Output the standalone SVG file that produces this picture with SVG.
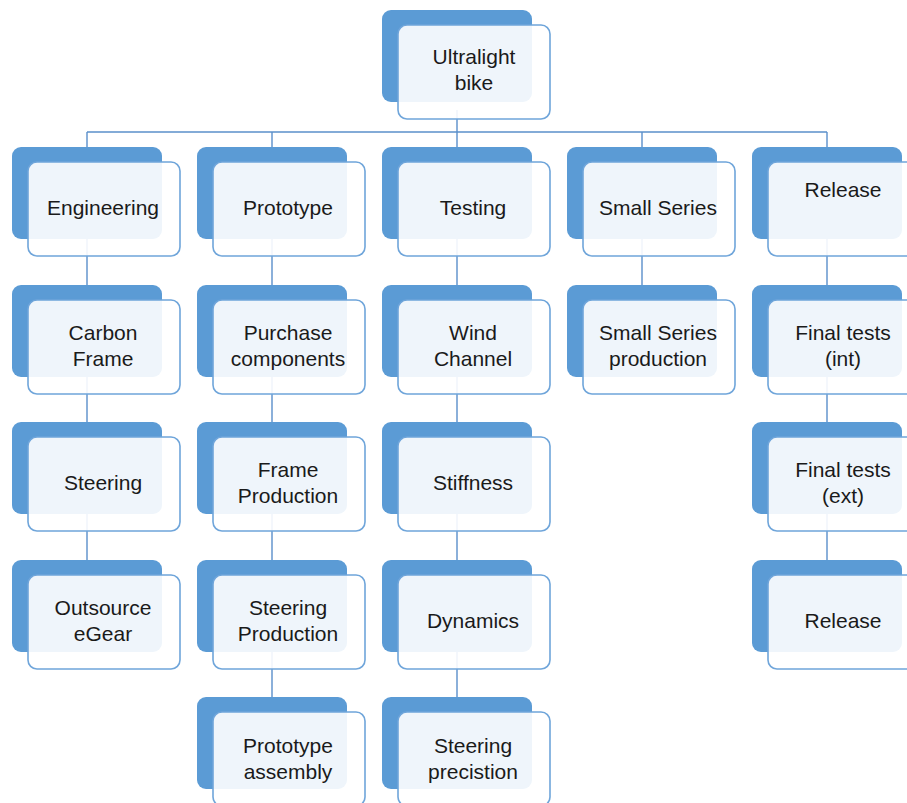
<svg xmlns="http://www.w3.org/2000/svg" width="907" height="803" viewBox="0 0 907 803">
<style>
.back{fill:#5b9bd5;}
.front{fill:#ffffff;fill-opacity:0.9;stroke:#6fa5da;stroke-width:1.6;}
.lbl{font-family:"Liberation Sans",Arial,sans-serif;font-size:21px;fill:#1a1a1a;text-anchor:middle;}
.con{stroke:#5a8fca;stroke-width:1.4;fill:none;}
</style>
<defs>
<g id="box">
<rect class="back" x="0" y="0" width="150" height="92" rx="9"/>
<rect class="front" x="16" y="15" width="152" height="94" rx="9"/>
</g>
</defs>
<g id="connectors">
<line class="con" x1="457" y1="110" x2="457" y2="132"/>
<line class="con" x1="87" y1="132" x2="827" y2="132"/>
<line class="con" x1="87" y1="132" x2="87" y2="570"/>
<line class="con" x1="272" y1="132" x2="272" y2="710"/>
<line class="con" x1="457" y1="132" x2="457" y2="710"/>
<line class="con" x1="642" y1="132" x2="642" y2="300"/>
<line class="con" x1="827" y1="132" x2="827" y2="570"/>
</g>
<g id="n-root" transform="translate(382,10)"><use href="#box"/><text class="lbl" x="92" y="54">Ultralight</text><text class="lbl" x="92" y="80">bike</text></g>

<g id="n-engineering" transform="translate(12,147)"><use href="#box"/><text class="lbl" x="91" y="68">Engineering</text></g>
<g id="n-carbon" transform="translate(12,285)"><use href="#box"/><text class="lbl" x="91" y="55">Carbon</text><text class="lbl" x="91" y="81">Frame</text></g>
<g id="n-steering" transform="translate(12,422)"><use href="#box"/><text class="lbl" x="91" y="68">Steering</text></g>
<g id="n-outsource" transform="translate(12,560)"><use href="#box"/><text class="lbl" x="91" y="55">Outsource</text><text class="lbl" x="91" y="81">eGear</text></g>

<g id="n-prototype" transform="translate(197,147)"><use href="#box"/><text class="lbl" x="91" y="68">Prototype</text></g>
<g id="n-purchase" transform="translate(197,285)"><use href="#box"/><text class="lbl" x="91" y="55">Purchase</text><text class="lbl" x="91" y="81">components</text></g>
<g id="n-frameprod" transform="translate(197,422)"><use href="#box"/><text class="lbl" x="91" y="55">Frame</text><text class="lbl" x="91" y="81">Production</text></g>
<g id="n-steerprod" transform="translate(197,560)"><use href="#box"/><text class="lbl" x="91" y="55">Steering</text><text class="lbl" x="91" y="81">Production</text></g>
<g id="n-protoassembly" transform="translate(197,697)"><use href="#box"/><text class="lbl" x="91" y="56">Prototype</text><text class="lbl" x="91" y="82">assembly</text></g>

<g id="n-testing" transform="translate(382,147)"><use href="#box"/><text class="lbl" x="91" y="68">Testing</text></g>
<g id="n-wind" transform="translate(382,285)"><use href="#box"/><text class="lbl" x="91" y="55">Wind</text><text class="lbl" x="91" y="81">Channel</text></g>
<g id="n-stiffness" transform="translate(382,422)"><use href="#box"/><text class="lbl" x="91" y="68">Stiffness</text></g>
<g id="n-dynamics" transform="translate(382,560)"><use href="#box"/><text class="lbl" x="91" y="68">Dynamics</text></g>
<g id="n-steerprec" transform="translate(382,697)"><use href="#box"/><text class="lbl" x="91" y="56">Steering</text><text class="lbl" x="91" y="82">precistion</text></g>

<g id="n-smallseries" transform="translate(567,147)"><use href="#box"/><text class="lbl" x="91" y="68">Small Series</text></g>
<g id="n-ssprod" transform="translate(567,285)"><use href="#box"/><text class="lbl" x="91" y="55">Small Series</text><text class="lbl" x="91" y="81">production</text></g>

<g id="n-release-head" transform="translate(752,147)"><use href="#box"/><text class="lbl" x="91" y="50">Release</text></g>
<g id="n-finalint" transform="translate(752,285)"><use href="#box"/><text class="lbl" x="91" y="55">Final tests</text><text class="lbl" x="91" y="81">(int)</text></g>
<g id="n-finalext" transform="translate(752,422)"><use href="#box"/><text class="lbl" x="91" y="55">Final tests</text><text class="lbl" x="91" y="81">(ext)</text></g>
<g id="n-release" transform="translate(752,560)"><use href="#box"/><text class="lbl" x="91" y="68">Release</text></g>
</svg>
